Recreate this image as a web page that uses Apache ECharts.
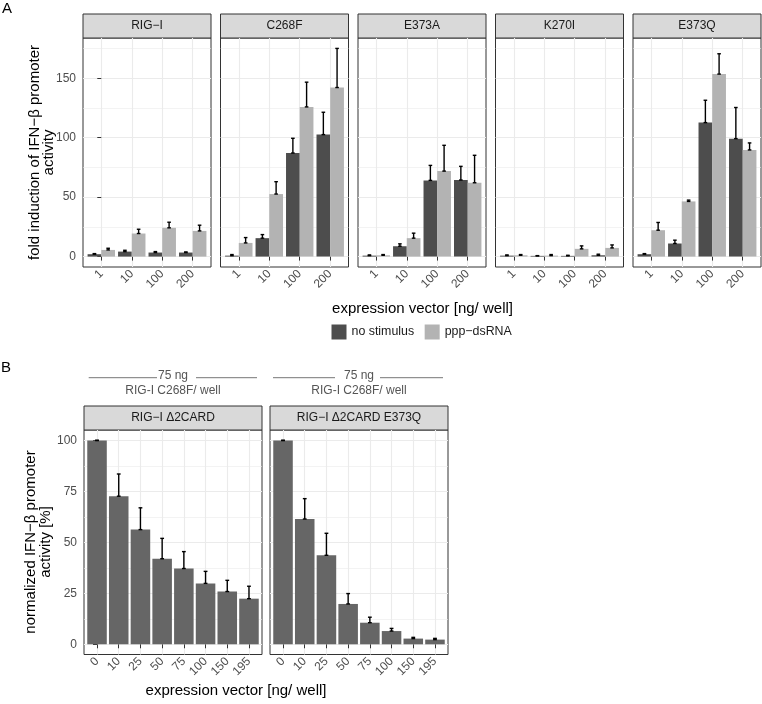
<!DOCTYPE html>
<html><head><meta charset="utf-8">
<script src="https://cdn.jsdelivr.net/npm/echarts@6/dist/echarts.min.js"></script>
<style>html,body{margin:0;padding:0;background:#fff}#c{width:762px;height:704px}</style>
</head><body><div id="c"></div>
<script>
// ---------- data ----------
const facetsA = ['RIG−I', 'C268F', 'E373A', 'K270I', 'E373Q'];
const dosesA = ['1', '10', '100', '200'];
const noStimMean = [[2.0, 4.2, 3.4, 3.4], [0.8, 15.5, 87.1, 102.6], [0.8, 8.7, 64.1, 64.4], [0.8, 0.6, 0.6, 1.1], [2.0, 11.0, 112.7, 99.2]];
const noStimSD = [[0.5, 1.1, 0.8, 0.5], [0.9, 3.0, 12.4, 18.8], [0.6, 2.0, 12.6, 11.5], [0.6, 0.2, 0.5, 0.9], [0.5, 2.8, 18.8, 26.2]];
const pppMean = [[5.6, 19.4, 24.2, 21.6], [11.5, 52.6, 125.9, 142.2], [1.1, 15.5, 71.9, 62.1], [1.1, 0.8, 6.5, 7.3], [22.2, 46.4, 153.5, 89.7]];
const pppSD = [[1.4, 3.6, 4.7, 4.8], [4.5, 10.4, 20.8, 32.9], [0.6, 4.2, 21.7, 23.1], [0.6, 0.9, 2.5, 2.5], [6.5, 1.1, 17.1, 5.9]];
const yTicksA = [0, 50, 100, 150];
const yMinorA = [25, 75, 125, 175];
const seriesNamesA = ['no stimulus', 'ppp−dsRNA'];

const facetsB = ['RIG−I Δ2CARD', 'RIG−I Δ2CARD E373Q'];
const dosesB = ['0', '10', '25', '50', '75', '100', '150', '195'];
const normMean = [[100, 72.7, 56.3, 42.0, 37.2, 29.9, 25.9, 22.4], [100, 61.5, 43.7, 19.8, 10.6, 6.5, 2.8, 2.3]];
const normSD = [[0.2, 10.9, 10.7, 10.0, 8.3, 5.9, 5.5, 6.1], [0.2, 10.0, 10.8, 5.1, 2.7, 1.3, 0.6, 0.6]];
const yTicksB = [0, 25, 50, 75, 100];
const yMinorB = [12.5, 37.5, 62.5, 87.5];

// ---------- layout / style ----------
const FONT = '"Liberation Sans", Arial, Helvetica, sans-serif';
const DARK = '#4D4D4D', LIGHT = '#B3B3B3', BARB = '#666666';
const AX_TXT = '#4D4D4D';
const layoutA = {lefts: [83, 220.5, 358, 495.5, 633], top: 38, width: 128, height: 229, yMin: -8.76, yMax: 183.86};
const layoutB = {lefts: [84, 270], top: 430, width: 178, height: 224.5, yMin: -5.01, yMax: 105.2};
const STRIP_H = 24;

const grid = [], xAxis = [], yAxis = [], series = [], graphic = [];

function errRender(offset, half) {
  return function (params, api) {
    const x = api.value(0) + offset;
    const lo = api.coord([x, api.value(1)]);
    const hi = api.coord([x, api.value(2)]);
    const st = {stroke: '#000', lineWidth: 1.4};
    return {type: 'group', children: [
      {type: 'line', shape: {x1: lo[0], y1: lo[1], x2: hi[0], y2: hi[1]}, style: st},
      {type: 'line', shape: {x1: hi[0] - half, y1: hi[1], x2: hi[0] + half, y2: hi[1]}, style: st},
      {type: 'line', shape: {x1: lo[0] - half, y1: lo[1], x2: lo[0] + half, y2: lo[1]}, style: st}
    ]};
  };
}

function txt(text, x, y, size, color, extra) {
  const el = {type: 'text', x: x, y: y, silent: true,
    style: Object.assign({text: text, fontSize: size, fontFamily: FONT, fill: color,
      textAlign: 'center', align: 'center', textVerticalAlign: 'middle', verticalAlign: 'middle'}, (extra && extra.style) || {})};
  if (extra && extra.rotation) el.rotation = extra.rotation;
  return el;
}

function addFacet(L, k, title, cats, yTicks, yMinor, showY) {
  const gi = grid.length;
  grid.push({left: L.lefts[k], top: L.top, width: L.width, height: L.height, show: true,
    borderColor: '#333333', borderWidth: 1, backgroundColor: 'transparent', containLabel: false});
  const idx = cats.map((c, i) => i);
  xAxis.push({type: 'value', gridIndex: gi, min: -0.6, max: cats.length - 1 + 0.6,
    axisLine: {show: false},
    axisTick: {show: true, length: 4, lineStyle: {color: '#333333', width: 1}, customValues: idx},
    axisLabel: {show: true, customValues: idx, rotate: 45, margin: 5, fontSize: 12, color: AX_TXT, fontFamily: FONT,
      formatter: v => cats[Math.round(v)]},
    splitLine: {show: true, lineStyle: {color: '#EBEBEB', width: 1.1}}});
  const yi = yAxis.length;
  yAxis.push({type: 'value', gridIndex: gi, min: L.yMin, max: L.yMax,
    axisLine: {show: false},
    axisTick: {show: showY, length: 4, lineStyle: {color: '#333333', width: 1}, customValues: yTicks},
    axisLabel: {show: showY, customValues: yTicks, margin: 7, fontSize: 12, color: AX_TXT, fontFamily: FONT},
    splitLine: {show: true, lineStyle: {color: '#EBEBEB', width: 1.1}}});
  yAxis.push({type: 'value', gridIndex: gi, min: L.yMin, max: L.yMax, position: 'left',
    axisLine: {show: false},
    axisTick: {show: false, customValues: yMinor},
    axisLabel: {show: false},
    splitLine: {show: true, lineStyle: {color: '#EBEBEB', width: 0.6}}});
  // strip
  graphic.push({type: 'rect', silent: true, shape: {x: L.lefts[k], y: L.top - STRIP_H, width: L.width, height: STRIP_H},
    style: {fill: '#D9D9D9', stroke: '#333333', lineWidth: 1}});
  graphic.push(txt(title, L.lefts[k] + L.width / 2, L.top - STRIP_H / 2, 12, '#1A1A1A'));
  return {xi: gi, yi: yi};
}

// Panel A
facetsA.forEach((f, k) => {
  const ax = addFacet(layoutA, k, f, dosesA, yTicksA, yMinorA, k === 0);
  const means = [noStimMean[k], pppMean[k]], sds = [noStimSD[k], pppSD[k]], cols = [DARK, LIGHT];
  [0, 1].forEach(s => {
    series.push({type: 'bar', name: seriesNamesA[s], xAxisIndex: ax.xi, yAxisIndex: ax.yi,
      data: means[s].map((v, i) => [i, v]), barWidth: '45%', barGap: '0%',
      itemStyle: {color: cols[s]}, emphasis: {disabled: true}, animation: false});
  });
  [0, 1].forEach(s => {
    series.push({type: 'custom', xAxisIndex: ax.xi, yAxisIndex: ax.yi, z: 5, silent: true, animation: false,
      data: means[s].map((v, i) => [i, v, v + sds[s][i]]),
      renderItem: errRender(s === 0 ? -0.225 : 0.225, 1.8)});
  });
});

// Panel B
facetsB.forEach((f, k) => {
  const ax = addFacet(layoutB, k, f, dosesB, yTicksB, yMinorB, k === 0);
  series.push({type: 'bar', name: f, xAxisIndex: ax.xi, yAxisIndex: ax.yi,
    data: normMean[k].map((v, i) => [i, v]), barWidth: '90%',
    itemStyle: {color: BARB}, emphasis: {disabled: true}, animation: false});
  series.push({type: 'custom', xAxisIndex: ax.xi, yAxisIndex: ax.yi, z: 5, silent: true, animation: false,
    data: normMean[k].map((v, i) => [i, v, v + normSD[k][i]]),
    renderItem: errRender(0, 1.9)});
});

// titles and annotations
graphic.push(txt('A', 7, 9, 15, '#000'));
graphic.push(txt('B', 6, 368, 15, '#000'));
graphic.push(txt('expression vector [ng/ well]', 422.5, 308.5, 15, '#000'));
graphic.push(txt('expression vector [ng/ well]', 236, 691, 15, '#000'));
graphic.push(txt('fold induction of IFN−β promoter\nactivity', 42, 152.5, 15, '#000',
  {rotation: Math.PI / 2, style: {lineHeight: 14}}));
graphic.push(txt('normalized IFN−β promoter\nactivity [%]', 38, 542, 15, '#000',
  {rotation: Math.PI / 2, style: {lineHeight: 15}}));
const brackets = [{c: 173, l: [88.7, 157], r: [196, 257]}, {c: 359, l: [273, 335], r: [380, 443]}];
brackets.forEach(b => {
  graphic.push({type: 'line', silent: true, shape: {x1: b.l[0], y1: 377.7, x2: b.l[1], y2: 377.7}, style: {stroke: '#777', lineWidth: 1}});
  graphic.push({type: 'line', silent: true, shape: {x1: b.r[0], y1: 377.7, x2: b.r[1], y2: 377.7}, style: {stroke: '#777', lineWidth: 1}});
  graphic.push(txt('75 ng', b.c, 376, 12, '#555'));
  graphic.push(txt('RIG-I C268F/ well', b.c, 391, 12, '#555'));
});

const chart = echarts.init(document.getElementById('c'), null, {renderer: 'canvas'});
chart.setOption({
  animation: false,
  backgroundColor: '#fff',
  grid: grid, xAxis: xAxis, yAxis: yAxis, series: series,
  legend: {data: seriesNamesA, left: 331.5, top: 324.5, itemWidth: 15, itemHeight: 15, itemGap: 10.5, icon: 'rect',
    selectedMode: false, textStyle: {fontSize: 12.4, color: '#1A1A1A', fontFamily: FONT}, padding: 0},
  graphic: graphic
});
</script></body></html>
